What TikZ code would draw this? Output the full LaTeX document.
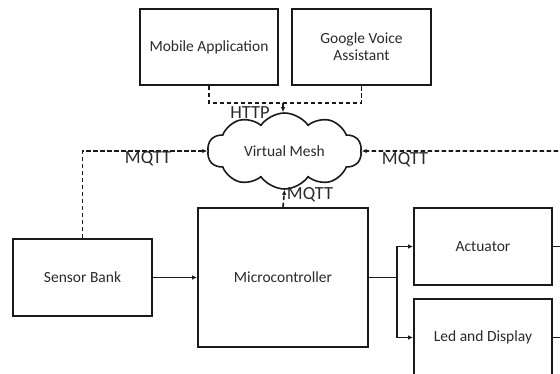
\documentclass[tikz,border=0pt]{standalone}
\usepackage{fontspec}
\setmainfont{Carlito}
\usetikzlibrary{shapes.symbols,arrows.meta}
\definecolor{ink}{HTML}{1A1A1A}
\definecolor{txt}{HTML}{2A2A2A}
\tikzset{
  blk/.style={draw=ink,line width=1.8pt,rectangle,inner sep=0pt,align=center,
    text=txt,font=\fontsize{15.5}{17}\selectfont},
  lnk/.style={draw=ink,line width=1.6pt,-{Latex[length=5pt,width=4.5pt]}},
  dlnk/.style={lnk,dash pattern=on 4.5pt off 2.5pt},
  dline/.style={draw=ink,line width=1.6pt,dash pattern=on 4.5pt off 2.5pt},
  lbl/.style={text=txt,font=\fontsize{18.5}{20}\selectfont,inner sep=0pt}
}
\begin{document}
\begin{tikzpicture}[x=1pt,y=-1pt]
\useasboundingbox (0,0) rectangle (560,374);
\clip (0,0) rectangle (560,374);
% blocks
\node[blk,minimum width=138,minimum height=76] (mob) at (209,47) {Mobile Application};
\node[blk,minimum width=139,minimum height=76] (gva) at (361.5,47) {Google Voice\\Assistant};
\node[cloud,draw=ink,line width=1.6pt,cloud puffs=10,cloud puff arc=110,
  cloud ignores aspect,minimum width=154,minimum height=76,inner sep=0pt,text=txt,
  font=\fontsize{15.5}{17}\selectfont] (mesh) at (284.5,151) {Virtual Mesh};
\node[blk,minimum width=139,minimum height=77] (sens) at (82.5,277.5) {Sensor Bank};
\node[blk,minimum width=170,minimum height=139] (mcu) at (283,277.5) {Microcontroller};
\node[blk,minimum width=138,minimum height=77] (act) at (483,246.5) {Actuator};
\node[blk,minimum width=138,minimum height=77] (led) at (483,337.5) {Led and Display};
% junction points
\coordinate (hj) at (283,103);
\coordinate (rin) at (565,151);
\coordinate (br) at (397,277.5);
\coordinate (aout) at (565,246.5);
\coordinate (lout) at (565,337.5);
% HTTP side
\draw[dline] (mob.south) |- (hj) -| (gva.south);
\draw[dlnk] (hj) -- (hj |- mesh.north);
% MQTT links
\draw[dlnk] (sens.north) |- (mesh.west);
\draw[dlnk] (rin) -- (mesh.east);
\draw[dlnk] (mcu.north) -- (mesh.south);
% data flow
\draw[lnk] (sens.east) -- (mcu.west);
\draw[draw=ink,line width=1.6pt] (mcu.east) -- (br);
\draw[lnk] (br) |- (act.west);
\draw[lnk] (br) |- (led.west);
\draw[draw=ink,line width=1.6pt] (act.east) -- (aout);
\draw[draw=ink,line width=1.6pt] (led.east) -- (lout);
% labels
\node[lbl] (lh) at (250,113) {HTTP};
\node[lbl] (lm1) at (148,159) {MQTT};
\node[lbl] (lm2) at (405,160) {MQTT};
\node[lbl] (lm3) at (310,195) {MQTT};
\end{tikzpicture}
\end{document}
